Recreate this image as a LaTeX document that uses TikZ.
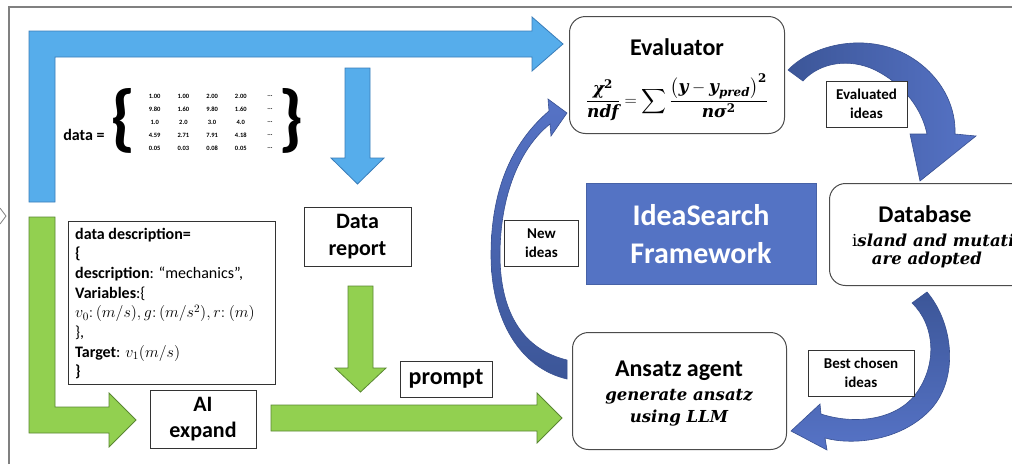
\RequirePackage{fix-cm}
\documentclass[tikz,border=0pt]{standalone}
\usepackage{fontspec}
\setsansfont{Carlito}
\newfontfamily\dvs{DejaVu Serif}
\usepackage{amsmath}
\definecolor{lblue}{RGB}{86,173,235}
\definecolor{lblueE}{RGB}{58,125,185}
\definecolor{lgreen}{RGB}{146,208,80}
\definecolor{lgreenE}{RGB}{90,135,50}
\definecolor{loopL}{RGB}{86,115,198}
\definecolor{loopD}{RGB}{60,86,152}
\definecolor{loopE}{RGB}{56,80,145}
\definecolor{ideabox}{RGB}{84,115,196}
\definecolor{framegray}{RGB}{128,128,128}
\newcommand\fsz[1]{\fontsize{#1}{#1}\selectfont}
\newcommand\fbi[1]{\text{\dvs\bfseries\itshape #1}}
\newcommand\fbu[1]{\text{\dvs\bfseries #1}}
\newcommand\chiformula{{\fontsize{17}{17}\selectfont
  $\displaystyle\frac{\fbi{χ}^{\fbu{2}}}{\fbi{ndf}}=\sum\frac{\bigl(\fbi{y}-\fbi{y}_{\fbi{pred}}\bigr)^{\fbu{2}}}{\fbi{nσ}^{\fbu{2}}}$}}
\newcommand\myvarsline{$v_0{:}\,(m/s), g{:}\,(m/s^2), r{:}\ (m)$}
\newcommand\mytargetline{\textbf{Target}: $v_1(m/s)$}
\begin{document}
\begin{tikzpicture}[x=1pt,y=-1pt,
  bluearrow/.style={fill=lblue,draw=lblueE,line width=0.8pt},
  greenarrow/.style={fill=lgreen,draw=lgreenE,line width=0.8pt},
  looparrow/.style={draw=loopE,line width=0.6pt},
  roundbox/.style={draw=black!70,line width=1pt,rounded corners=16pt,fill=white,anchor=north west,inner sep=0pt},
  tagbox/.style={draw=black!80,line width=0.9pt,fill=white,inner sep=0pt,align=center,font=\sffamily\bfseries\fontsize{15}{19}\selectfont},
  sqbox/.style={draw=black!80,line width=1pt,fill=white,inner sep=0pt,align=center},
  txt/.style={inner sep=0pt,align=center,font=\sffamily\bfseries},
  bi/.style={inner sep=0pt,align=center,font=\dvs\bfseries\itshape\fsz{16.5}},
  ddline/.style={inner sep=0pt,anchor=base west,font=\sffamily\fsz{16}},
  num/.style={inner sep=0pt,font=\sffamily\bfseries\fsz{6.5}},
]
\fill[white] (0,0) rectangle (1012,464);
\useasboundingbox (0,0) rectangle (1012,464);
\clip (0,0) rectangle (1012,464);

% frame
\draw[framegray,line width=1.5pt] (9,464) -- (9,7) -- (1012,7);
\draw[framegray,line width=0.8pt] (0,208) -- (6,216) -- (0,224);

% blue arrows
\draw[bluearrow] (29,202) -- (29,31) -- (532,31) -- (532,17) -- (563,44) -- (532,71) -- (532,57) -- (55,57) -- (55,202) -- cycle;
\draw[bluearrow] (345,68) -- (370,68) -- (370,158) -- (384,158) -- (357.5,184) -- (331,158) -- (345,158) -- cycle;

% green arrows
\draw[greenarrow] (29,217) -- (55,217) -- (55,407) -- (109,407) -- (109,393) -- (136,420) -- (109,447) -- (109,433) -- (29,433) -- cycle;
\draw[greenarrow] (271,405) -- (537,405) -- (537,393) -- (562,418) -- (537,443) -- (537,431) -- (271,431) -- cycle;
\draw[greenarrow] (348,286) -- (373,286) -- (373,368) -- (386,368) -- (360.5,392) -- (335,368) -- (348,368) -- cycle;

% data matrix
\node[txt,font=\sffamily\bfseries\fsz{16}] (dataeq) at (84,135) {data =};
\node[txt,font=\sffamily\bfseries\fsz{74}] (lbrace) at (123,121) {\{};
\node[txt,font=\sffamily\bfseries\fsz{74}] (rbrace) at (291,121) {\}};
\foreach \r [count=\i] in {{1.00,1.00,2.00,2.00},{9.80,1.60,9.80,1.60},{1.0,2.0,3.0,4.0},{4.59,2.71,7.91,4.18},{0.05,0.03,0.08,0.05}} {
  \foreach \v [count=\j] in \r {
    \node[num] (m\i\j) at ({126+28.7*\j},{83+13*\i}) {\v};
  }
  \node[num] (m\i e) at (270,{83+13*\i}) {...};
}

% data description
\node[sqbox,minimum width=207pt,minimum height=163pt] (ddbox) at (171.5,302.5) {};
\node[ddline] (dd1) at (75,239) {\bfseries data description=};
\node[ddline] (dd2) at (75,258.7) {\bfseries \{};
\node[ddline] (dd3) at (75,278.4) {\textbf{description}: “mechanics”,};
\node[ddline] (dd4) at (75,298.1) {\textbf{Variables}:\{};
\node[ddline] (dd5) at (75,317.8) {\myvarsline};
\node[ddline] (dd6) at (75,337.5) {\},};
\node[ddline] (dd7) at (75,357.2) {\mytargetline};
\node[ddline] (dd8) at (75,376.9) {\bfseries \}};

% data report, AI expand, prompt
\node[sqbox,minimum width=107pt,minimum height=59pt,font=\sffamily\bfseries\fontsize{22}{27}\selectfont] (report) at (357.5,236.5) {Data\\report};
\node[sqbox,minimum width=106pt,minimum height=58pt,font=\sffamily\bfseries\fontsize{22}{26}\selectfont] (aiexp) at (203,419) {AI\\expand};
\node[sqbox,minimum width=92pt,minimum height=36pt,font=\sffamily\bfseries\fsz{24}] (prompt) at (446,379) {prompt};

% Evaluator
\node[roundbox,minimum width=215pt,minimum height=117pt] (evalbox) at (569,16) {};
\node[txt,font=\sffamily\bfseries\fsz{24}] (evaltitle) at (677,47) {Evaluator};
\node[inner sep=0pt] (formula) at (677,97) {\chiformula};

% IdeaSearch
\node[fill=ideabox,draw=ideabox!85!black,line width=0.6pt,minimum width=230pt,minimum height=101pt,anchor=north west,inner sep=0pt] (idea) at (586,183) {};
\node[txt,text=white,font=\sffamily\bfseries\fsz{30}] (idea1) at (701,215) {IdeaSearch};
\node[txt,text=white,font=\sffamily\bfseries\fsz{30}] (idea2) at (701,253) {Framework};

% Database
\node[roundbox,minimum width=200pt,minimum height=102pt] (dbbox) at (829,183) {};
\node[txt,font=\sffamily\bfseries\fsz{24}] (dbtitle) at (925,214) {Database};
\node[bi,anchor=west] (db2) at (852,240) {{\upshape\mdseries i}sland and mutation};
\node[bi] (db3) at (927,260) {are adopted};

% Ansatz agent
\node[roundbox,minimum width=214pt,minimum height=117pt] (ansbox) at (572,332) {};
\node[txt,font=\sffamily\bfseries\fsz{24}] (anstitle) at (679,371) {Ansatz agent};
\node[bi] (ans2) at (679,397) {generate ansatz};
\node[bi] (ans3) at (679,418) {using LLM};

% loop arrows
\draw[looparrow,top color=loopL,bottom color=loopD] (567,379) .. controls (520,368) and (491,320) .. (491,255)
  .. controls (491,185) and (515,140) .. (549,111) -- (548,99) -- (567,113) -- (551,136) -- (550,124)
  .. controls (520,148) and (500,195) .. (500,255)
  .. controls (500,315) and (525,350) .. (567,360) -- cycle;
\draw[looparrow,left color=loopD,right color=loopL] (788,70) .. controls (815,42) and (875,30) .. (918,62)
  .. controls (945,82) and (956,110) .. (955,134) -- (976,136) -- (920,181) -- (910,134) -- (927,134)
  .. controls (922,110) and (905,85) .. (875,70)
  .. controls (850,58) and (820,62) .. (803,81) -- cycle;
\draw[looparrow,top color=loopD,bottom color=loopL] (927,292) .. controls (955,325) and (960,385) .. (925,415)
  .. controls (895,442) and (850,445) .. (825,438) -- (827,450) -- (791,431) -- (820,404) -- (821,414)
  .. controls (855,425) and (895,420) .. (915,395)
  .. controls (938,365) and (935,325) .. (912,303) -- cycle;

% tag boxes
\node[tagbox,minimum width=81pt,minimum height=46pt] (evtag) at (866.5,104) {Evaluated\\ideas};
\node[tagbox,minimum width=74pt,minimum height=46pt] (newtag) at (541.5,243.5) {New\\ideas};
\node[tagbox,minimum width=106pt,minimum height=46pt] (besttag) at (861,373) {Best chosen\\ideas};
\end{tikzpicture}
\end{document}
